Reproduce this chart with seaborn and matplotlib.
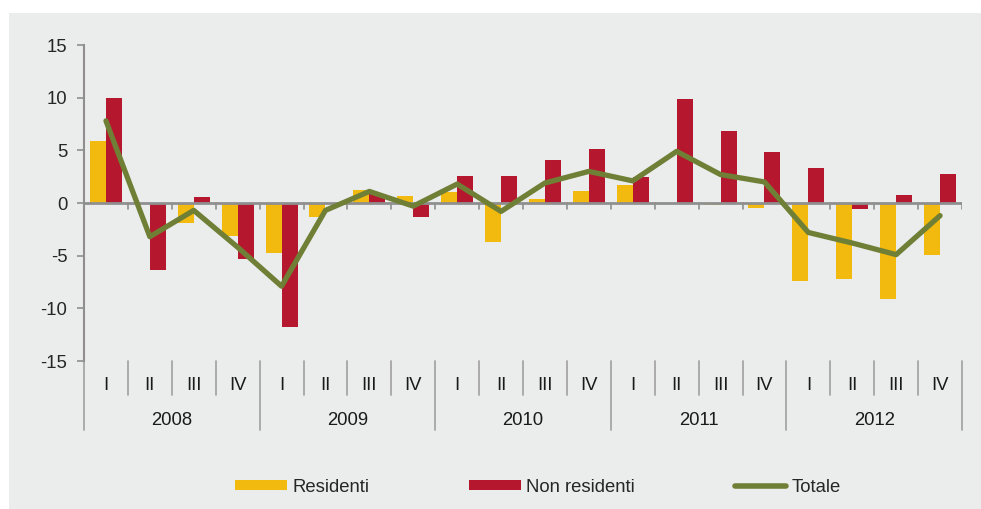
import matplotlib.pyplot as plt
import numpy as np
import pandas as pd
import seaborn as sns
from matplotlib.lines import Line2D
from matplotlib.patches import Patch, Rectangle

years = ["2008", "2009", "2010", "2011", "2012"]
quarters = ["I", "II", "III", "IV"]

residenti = [5.9, 0.0, -1.9, -3.1,
             -4.7, -1.3, 1.2, 0.7,
             1.0, -3.7, 0.35, 1.1,
             1.7, 0.0, -0.2, -0.5,
             -7.4, -7.2, -9.1, -4.9]
non_residenti = [10.0, -6.4, 0.6, -5.3,
                 -11.8, 0.0, 0.9, -1.3,
                 2.6, 2.6, 4.05, 5.1,
                 2.5, 9.9, 6.8, 4.8,
                 3.3, -0.6, 0.8, 2.75]
totale = [7.8, -3.2, -0.7, -4.2,
          -7.9, -0.7, 1.1, -0.3,
          1.8, -0.8, 1.9, 3.0,
          2.1, 4.9, 2.7, 2.0,
          -2.8, -3.8, -4.9, -1.2]

YELLOW = "#F2B90F"
RED = "#B5182E"
OLIVE = "#6F7F35"
GREY_BG = "#EBECEC"
AXIS_GREY = "#8F8F8F"
FS = 13.3

periods = [f"{y}-{q}" for y in years for q in quarters]
df = pd.DataFrame({
    "period": periods * 2,
    "serie": ["Residenti"] * 20 + ["Non residenti"] * 20,
    "value": residenti + non_residenti,
})

sns.set_style("white")
plt.rcParams["font.family"] = ["Liberation Sans", "DejaVu Sans"]
plt.rcParams["axes.unicode_minus"] = False

fig = plt.figure(figsize=(9.81, 5.09), dpi=100)
fig.patch.set_facecolor("white")
fig.patches.append(Rectangle((9 / 981, 0), 1 - 9 / 981, 1 - 13 / 509,
                             transform=fig.transFigure, facecolor=GREY_BG,
                             edgecolor="none", zorder=-10))

ax = fig.add_axes([84 / 981, 1 - 361 / 509, 878 / 981, 316 / 509])
ax.set_facecolor("none")

sns.barplot(data=df, x="period", y="value", hue="serie", order=periods,
            palette=[YELLOW, RED], saturation=1, width=0.73, dodge=True,
            errorbar=None, linewidth=0, legend=False, ax=ax)
sns.lineplot(x=np.arange(20), y=totale, color=OLIVE, linewidth=3.8, ax=ax,
             zorder=5)

ax.set_xlim(-0.5, 19.5)
ax.set_ylim(-15, 15)
ax.set_yticks(range(-15, 16, 5))
ax.set_xticks([])
ax.set_xlabel("")
ax.set_ylabel("")
ax.tick_params(axis="y", length=5, width=1.2, color=AXIS_GREY, pad=7,
               labelsize=FS, direction="out", left=True)
for s in ["top", "right", "bottom"]:
    ax.spines[s].set_visible(False)
ax.spines["left"].set_color(AXIS_GREY)
ax.spines["left"].set_linewidth(1.5)

# zero line with quarter ticks
ax.axhline(0, color=AXIS_GREY, lw=2, zorder=4)
for k in range(1, 21):
    ax.plot([k - 0.5, k - 0.5], [0, -0.55], color=AXIS_GREY, lw=1.2, zorder=4)

# two-level category axis below the plot
trans = ax.get_xaxis_transform()
for k in range(21):
    bottom = -0.218 if k % 4 == 0 else -0.108
    ax.plot([k - 0.5, k - 0.5], [0, bottom], transform=trans, color="#A6A6A6",
            lw=1.3, clip_on=False)
for i, p in enumerate(periods):
    ax.text(i, -0.076, quarters[i % 4], transform=trans, ha="center",
            va="center", fontsize=FS, color="#1a1a1a")
for j, y in enumerate(years):
    ax.text(j * 4 + 1.5, -0.188, y, transform=trans, ha="center", va="center",
            fontsize=FS, color="#1a1a1a")

handles = [
    Patch(facecolor=YELLOW, edgecolor="none", label="Residenti"),
    Patch(facecolor=RED, edgecolor="none", label="Non residenti"),
    Line2D([], [], color=OLIVE, lw=4, solid_capstyle="round", label="Totale"),
]
fig.legend(handles=handles, loc="center", ncol=3, frameon=False,
           bbox_to_anchor=(538 / 981, 1 - 487 / 509), fontsize=FS,
           handlelength=2.8, handleheight=0.5, handletextpad=0.3,
           columnspacing=5.4)

fig.savefig("out.png", dpi=100, facecolor=fig.get_facecolor())
